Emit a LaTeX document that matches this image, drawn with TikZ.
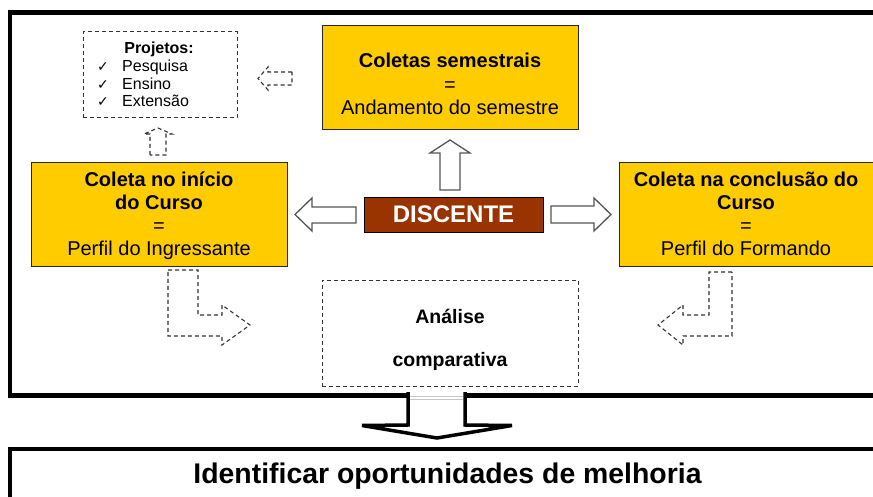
\documentclass[tikz,border=0pt]{standalone}
\usepackage{fontspec}
\setmainfont{Liberation Sans}
\newfontfamily\dejavu{DejaVu Sans}
\definecolor{ouro}{HTML}{FFCC00}
\definecolor{tijolo}{HTML}{993300}
\definecolor{traco}{HTML}{333333}
\definecolor{contorno}{HTML}{555555}
\begin{document}
\begin{tikzpicture}[x=1pt,y=-1pt,
  ybox/.style={draw=black!85, line width=0.9pt, fill=ouro, minimum width=256pt, minimum height=104pt, inner sep=0pt},
  ytxt/.style={anchor=base, inner sep=0pt, font=\fontsize{20}{22.7}\selectfont},
  ytxtb/.style={ytxt, font=\fontsize{20}{22.7}\selectfont\bfseries},
  smalltxt/.style={anchor=base west, inner sep=0pt, font=\fontsize{16}{17.6}\selectfont},
  chk/.style={anchor=base west, inner sep=0pt, font=\dejavu\fontsize{14}{14}\selectfont},
  dashbox/.style={draw=traco, line width=1pt, dash pattern=on 4pt off 3pt},
  dasharrow/.style={draw=traco, line width=1.1pt, dash pattern=on 4pt off 3pt, line join=miter},
  blockarrow/.style={draw=contorno, line width=1.3pt, fill=white, line join=miter},
  frameline/.style={line width=4.5pt, draw=black}]
\useasboundingbox (0,0) rectangle (873,497);
\clip (0,0) rectangle (873,497);
\fill[white] (0,0) rectangle (873,497);

% outer frame
\draw[frameline] (890,12.5) -- (10,12.5) -- (10,395.5) -- (890,395.5);
% bottom box
\draw[frameline] (890,449) -- (10,449) -- (10,510);

% yellow boxes
\node[ybox] (sem) at (450,77.5) {};
\node[ytxtb] (sem1) at (450,68) {Coletas semestrais};
\node[ytxt]  (sem2) at (450,91.5) {=};
\node[ytxt]  (sem3) at (450,115) {Andamento do semestre};

\node[ybox] (ini) at (159,214) {};
\node[ytxtb] (ini1) at (159,187) {Coleta no início};
\node[ytxtb] (ini2) at (159,210) {do Curso};
\node[ytxt]  (ini3) at (159,232.5) {=};
\node[ytxt]  (ini4) at (159,255) {Perfil do Ingressante};

\node[ybox, minimum width=254pt] (fim) at (746,214) {};
\node[ytxtb] (fim1) at (746,187) {Coleta na conclusão do};
\node[ytxtb] (fim2) at (746,210) {Curso};
\node[ytxt]  (fim3) at (746,232.5) {=};
\node[ytxt]  (fim4) at (746,255) {Perfil do Formando};

% DISCENTE
\node[draw=black, line width=0.9pt, fill=tijolo, minimum width=179pt, minimum height=35pt,
      inner sep=0pt, text=white, font=\fontsize{24}{24}\selectfont\bfseries] (disc) at (453.5,214.5) {DISCENTE};

% Projetos
\node[dashbox, minimum width=154pt, minimum height=86pt, inner sep=0pt] (proj) at (160,75) {};
\node[anchor=base, inner sep=0pt, font=\fontsize{16}{17.6}\selectfont\bfseries] (projt) at (159,54) {Projetos:};
\node[chk] (c1) at (97,72) {✓};
\node[smalltxt] (p1) at (122,72) {Pesquisa};
\node[chk] (c2) at (97,89.5) {✓};
\node[smalltxt] (p2) at (122,89.5) {Ensino};
\node[chk] (c3) at (97,107) {✓};
\node[smalltxt] (p3) at (122,107) {Extensão};

% Analise comparativa
\node[dashbox, minimum width=256pt, minimum height=106pt, inner sep=0pt] (anl) at (450,333) {};
\node[ytxtb, font=\fontsize{19.5}{22}\selectfont\bfseries] (anl1) at (450,323) {Análise};
\node[ytxtb, font=\fontsize{19.5}{22}\selectfont\bfseries] (anl2) at (450,366) {comparativa};

% block arrows from DISCENTE
\draw[blockarrow] (356,207) -- (312,207) -- (312,198) -- (295,214.5) -- (312,231) -- (312,223) -- (356,223) -- cycle;
\draw[blockarrow] (551,206) -- (594,206) -- (594,198) -- (611,214.5) -- (594,231) -- (594,223) -- (551,223) -- cycle;
\draw[blockarrow] (440,190) -- (440,153) -- (430,153) -- (450,140) -- (470,153) -- (460,153) -- (460,190) -- cycle;

% dashed arrows
\draw[dasharrow] (292,72) -- (268,72) -- (268,67) -- (258,78.5) -- (268,90) -- (268,85) -- (292,85) -- cycle;
\draw[dasharrow] (150,155) -- (150,134) -- (144,134) -- (158,128) -- (172,134) -- (166,134) -- (166,155) -- cycle;
\draw[dasharrow] (168,270) -- (198,270) -- (198,315) -- (222,315) -- (222,305) -- (250,325) -- (222,345) -- (222,336) -- (168,336) -- cycle;
\draw[dasharrow] (732,272) -- (709,272) -- (709,315) -- (683,315) -- (683,305) -- (658,325) -- (683,345) -- (683,336) -- (732,336) -- cycle;

% big down arrow
\fill[white] (408,391) -- (408,425) -- (362,426) -- (437,438) -- (512,426) -- (465,425) -- (465,391) -- cycle;
\draw[line width=3.5pt, line join=miter] (408,392) -- (408,425) -- (362,425.5) -- (437,438) -- (512,425.5) -- (465,425) -- (465,392);
\draw[gray!45, line width=0.8pt] (410,396) -- (463,396);
\draw[gray!45, line width=0.8pt] (410,399) -- (463,399);

% bottom text
\node[anchor=base, inner sep=0pt, font=\fontsize{28.4}{30}\selectfont\bfseries] (melh) at (447.5,483) {Identificar oportunidades de melhoria};
\end{tikzpicture}
\end{document}
